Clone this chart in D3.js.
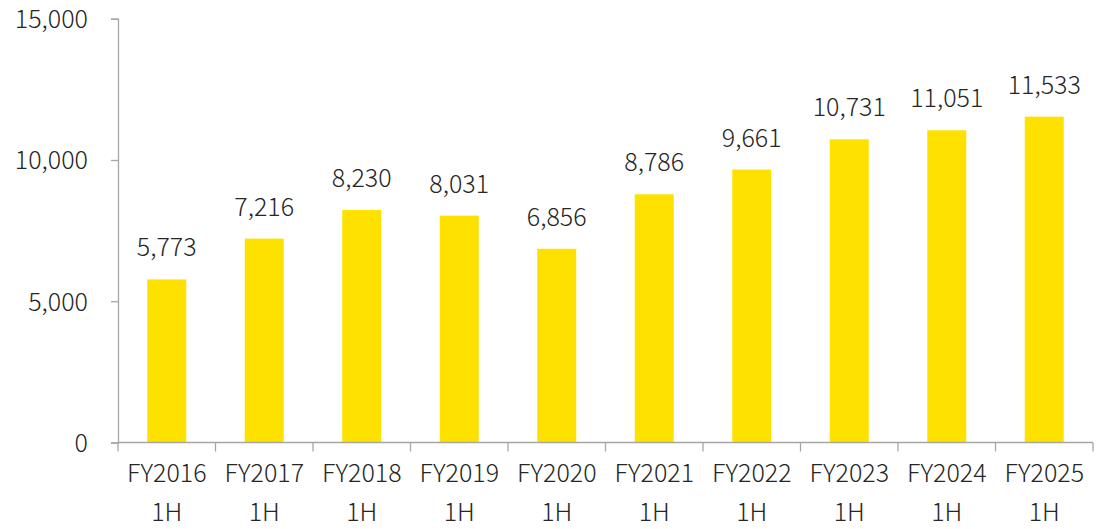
<!DOCTYPE html>
<html>
<head>
  <meta charset="utf-8">
  <title>FY 1H</title>
  <script src="https://d3js.org/d3.v7.min.js"></script>
  <style>
    body { margin: 0; background: #fff; }
    text { font-family: "Noto Sans CJK JP", "Noto Sans", sans-serif; font-weight: 300; fill: #262626; }
  </style>
</head>
<body>
<svg width="1096" height="529"></svg>
<script>
var years = ["FY2016", "FY2017", "FY2018", "FY2019", "FY2020", "FY2021", "FY2022", "FY2023", "FY2024", "FY2025"];
var halves = ["1H", "1H", "1H", "1H", "1H", "1H", "1H", "1H", "1H", "1H"];
var values = [5773, 7216, 8230, 8031, 6856, 8786, 9661, 10731, 11051, 11533];
var yTicks = [0, 5000, 10000, 15000];

var svg = d3.select("svg");
var mLeft = 118, mRight = 1093, mTop = 18.7, mBottom = 442.5;
var axisColor = "#a6a6a6";
var fontSize = "25px";

var x = d3.scaleBand().domain(years).range([mLeft, mRight]).paddingInner(0.6).paddingOuter(0.3);
var y = d3.scaleLinear().domain([0, 15000]).range([mBottom, mTop]);
var fmt = d3.format(",");

// y axis
var yAxis = svg.append("g")
    .attr("transform", "translate(" + mLeft + ",0)")
    .call(d3.axisLeft(y).tickValues(yTicks).tickFormat(fmt).tickSize(7).tickPadding(23));
yAxis.select(".domain").attr("stroke", axisColor).attr("stroke-width", 1.3);
yAxis.selectAll(".tick line").attr("stroke", axisColor).attr("stroke-width", 1.3);
yAxis.selectAll(".tick text").style("font-size", fontSize).attr("fill", "#262626")
    .attr("dy", "0.36em")
    .style("font-family", "'Noto Sans CJK JP', sans-serif");

// bars
svg.append("g").selectAll("rect")
    .data(values)
    .enter().append("rect")
    .attr("x", function(d, i) { return x(years[i]); })
    .attr("y", function(d) { return y(d); })
    .attr("width", x.bandwidth())
    .attr("height", function(d) { return mBottom - y(d); })
    .attr("fill", "#ffe100");

// value labels
svg.append("g").selectAll("text")
    .data(values)
    .enter().append("text")
    .attr("x", function(d, i) { return x(years[i]) + x.bandwidth() / 2; })
    .attr("y", function(d) { return y(d) - 23; })
    .attr("text-anchor", "middle")
    .style("font-size", fontSize)
    .text(function(d) { return fmt(d); });

// x axis
var step = x.step();
var xg = svg.append("g");
xg.append("line")
    .attr("x1", mLeft).attr("x2", mRight)
    .attr("y1", mBottom).attr("y2", mBottom)
    .attr("stroke", axisColor).attr("stroke-width", 1.3);
xg.selectAll("line.tk")
    .data(d3.range(years.length + 1))
    .enter().append("line")
    .attr("class", "tk")
    .attr("x1", function(i) { return mLeft + i * step; })
    .attr("x2", function(i) { return mLeft + i * step; })
    .attr("y1", mBottom).attr("y2", mBottom + 9)
    .attr("stroke", axisColor).attr("stroke-width", 1.3);

var cats = xg.selectAll("text.cat")
    .data(years)
    .enter().append("text")
    .attr("class", "cat")
    .attr("text-anchor", "middle")
    .style("font-size", fontSize)
    .attr("x", function(d) { return x(d) + x.bandwidth() / 2; });
cats.append("tspan").attr("y", 482).text(function(d) { return d; });
cats.append("tspan")
    .attr("x", function(d) { return x(d) + x.bandwidth() / 2; })
    .attr("y", 521)
    .text(function(d, i) { return halves[i]; });
</script>
</body>
</html>
